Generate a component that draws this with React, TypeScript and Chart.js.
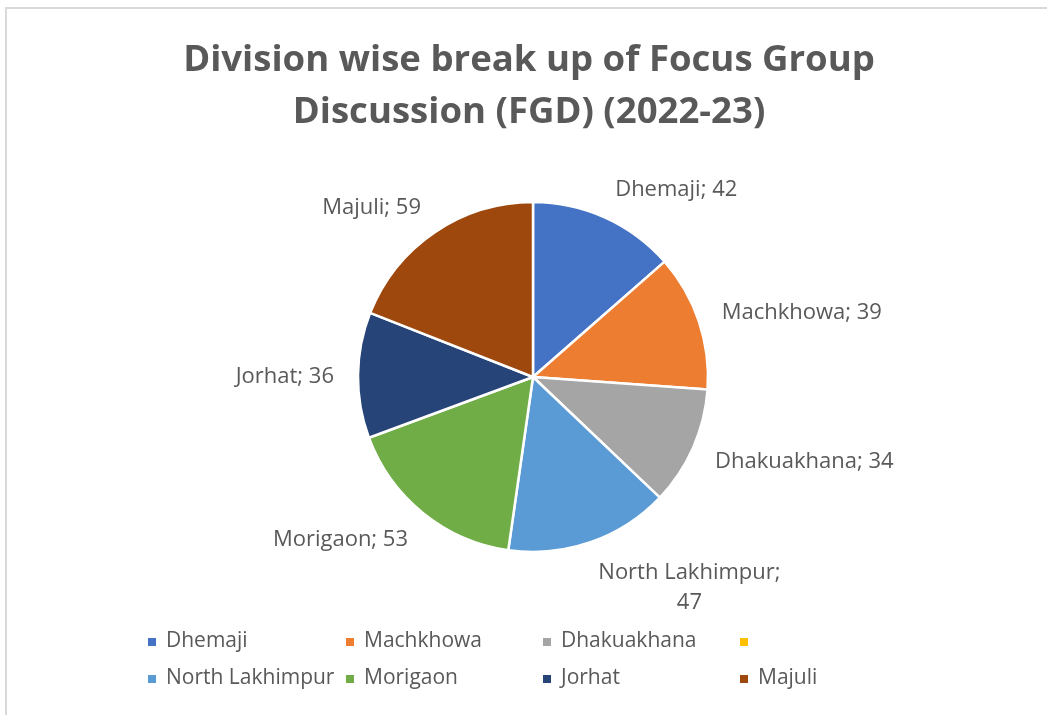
import React, { useEffect, useRef } from "react";
import { Chart, registerables } from "chart.js";

Chart.register(...registerables);

const TITLE_LINES = ["Division wise break up of Focus Group", "Discussion (FGD) (2022-23)"];
const CATEGORIES = ["Dhemaji", "Machkhowa", "Dhakuakhana", "", "North Lakhimpur", "Morigaon", "Jorhat", "Majuli"];
const VALUES = [42, 39, 34, 0, 47, 53, 36, 59];
const COLORS = ["#4472C4", "#ED7D31", "#A5A5A5", "#FFC000", "#5B9BD5", "#70AD47", "#264478", "#9E480E"];

const W = 1047;
const H = 715;
const TEXT_COLOR = "#595959";
const FONT = '"Open Sans", "Liberation Sans", sans-serif';
const LABEL_SIZE = 22;
const LEGEND_SIZE = 21;
const GAP = 24;

const framePlugin = {
  id: "frame",
  beforeDraw(chart: any) {
    const ctx = chart.ctx;
    ctx.save();
    ctx.fillStyle = "#ffffff";
    ctx.fillRect(0, 0, W, H);
    ctx.strokeStyle = "#d9d9d9";
    ctx.lineWidth = 2;
    ctx.beginPath();
    ctx.moveTo(6, H + 5);
    ctx.lineTo(6, 8);
    ctx.lineTo(W + 5, 8);
    ctx.stroke();
    ctx.restore();
  },
};

const titlePlugin = {
  id: "customTitle",
  afterDraw(chart: any) {
    const ctx = chart.ctx;
    ctx.save();
    ctx.font = `bold 40px ${FONT}`;
    const w0 = ctx.measureText(TITLE_LINES[0]).width;
    const size = (40 * 692) / w0;
    ctx.font = `bold ${size}px ${FONT}`;
    ctx.fillStyle = TEXT_COLOR;
    ctx.textAlign = "center";
    ctx.textBaseline = "alphabetic";
    ctx.fillText(TITLE_LINES[0], 529, 71);
    ctx.fillText(TITLE_LINES[1], 529, 123);
    ctx.restore();
  },
};

const labelPlugin = {
  id: "sliceLabels",
  afterDatasetsDraw(chart: any) {
    const ctx = chart.ctx;
    const meta = chart.getDatasetMeta(0);
    ctx.save();
    ctx.font = `${LABEL_SIZE}px ${FONT}`;
    ctx.fillStyle = TEXT_COLOR;
    ctx.textAlign = "center";
    ctx.textBaseline = "alphabetic";
    const cap = LABEL_SIZE * 0.714;
    const lineH = 30;
    meta.data.forEach((arc: any, i: number) => {
      const v = VALUES[i];
      if (!v) return;
      const { x, y, startAngle, endAngle, outerRadius } = arc.getProps(
        ["x", "y", "startAngle", "endAngle", "outerRadius"],
        true
      );
      const mid = (startAngle + endAngle) / 2;
      const dx = Math.cos(mid);
      const dy = Math.sin(mid);
      const full = `${CATEGORIES[i]}; ${v}`;
      let lines = [full];
      if (ctx.measureText(full).width > 200) lines = [`${CATEGORIES[i]};`, `${v}`];
      const w = Math.max(...lines.map((l) => ctx.measureText(l).width));
      const h = cap + (lines.length - 1) * lineH;
      const r = outerRadius + GAP;
      const sx = Math.abs(dx) > 0.1 ? Math.sign(dx) : dx / 0.1;
      const cx = x + r * dx + (sx * w) / 2;
      const cy = y + r * dy + (dy * h) / 2;
      lines.forEach((l, k) => {
        ctx.fillText(l, cx, cy - h / 2 + cap + k * lineH);
      });
    });
    ctx.restore();
  },
};

const LEGEND_COLS = [148, 346, 543, 740];
const LEGEND_ROWS = [640, 677];

const legendPlugin = {
  id: "gridLegend",
  afterDraw(chart: any) {
    const ctx = chart.ctx;
    ctx.save();
    ctx.font = `${LEGEND_SIZE}px ${FONT}`;
    ctx.textAlign = "left";
    ctx.textBaseline = "alphabetic";
    const cap = LEGEND_SIZE * 0.714;
    CATEGORIES.forEach((name, i) => {
      const col = i % 4;
      const row = Math.floor(i / 4);
      const x = LEGEND_COLS[col];
      const yc = LEGEND_ROWS[row];
      ctx.fillStyle = COLORS[i];
      ctx.fillRect(x, yc - 2, 8, 8);
      ctx.fillStyle = TEXT_COLOR;
      if (name) ctx.fillText(name, x + 18, yc + cap / 2);
    });
    ctx.restore();
  },
};

export default function App() {
  const ref = useRef<HTMLCanvasElement | null>(null);

  useEffect(() => {
    if (!ref.current) return;
    const chart = new Chart(ref.current, {
      type: "pie",
      data: {
        labels: CATEGORIES,
        datasets: [
          {
            data: VALUES,
            backgroundColor: COLORS,
            borderColor: "#ffffff",
            borderWidth: 2.5,
            hoverOffset: 0,
            offset: 0,
          },
        ],
      },
      options: {
        responsive: false,
        animation: false,
        events: [],
        radius: 175,
        layout: { padding: { left: 358, right: 339, top: 202, bottom: 163 } },
        plugins: {
          legend: { display: false },
          title: { display: false },
          tooltip: { enabled: false },
        },
      } as any,
      plugins: [framePlugin, titlePlugin, labelPlugin, legendPlugin],
    });
    return () => chart.destroy();
  }, []);

  return (
    <div style={{ position: "fixed", left: 0, top: 0, width: W, height: H, background: "#fff" }}>
      <canvas ref={ref} width={W} height={H} style={{ display: "block" }} />
    </div>
  );
}
